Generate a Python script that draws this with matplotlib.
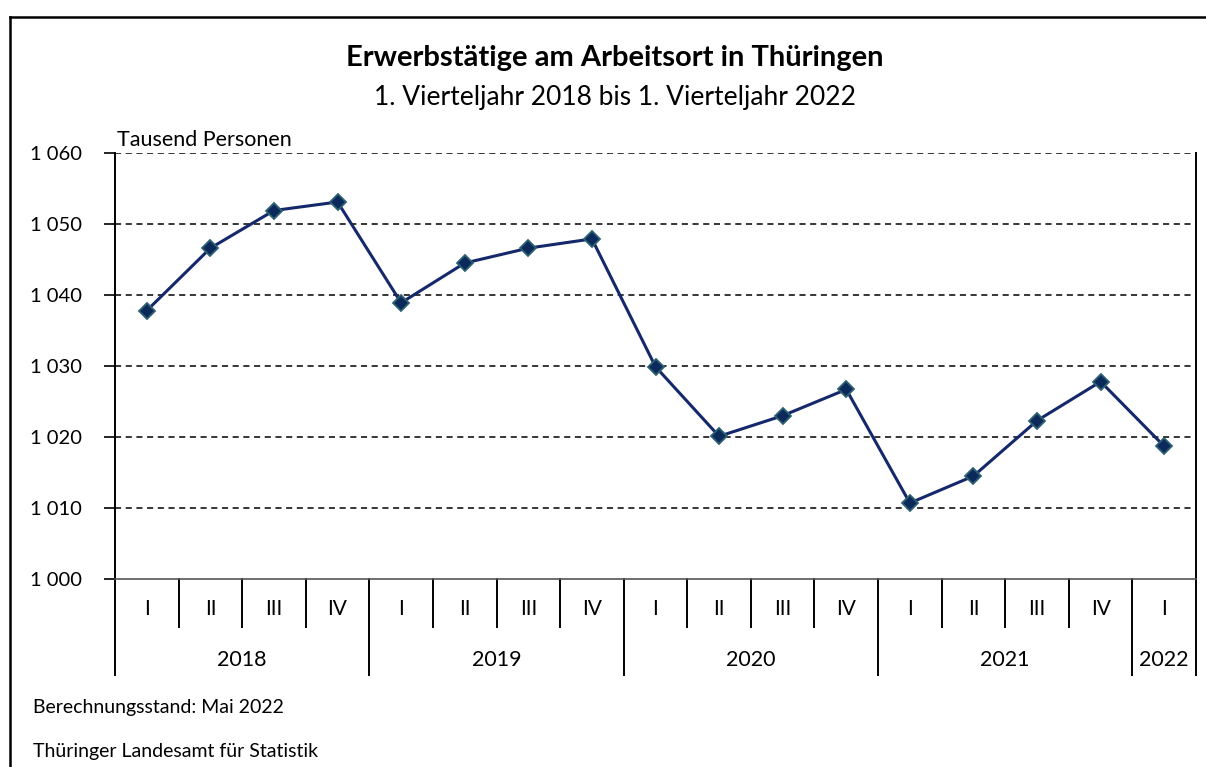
import matplotlib
matplotlib.use("Agg")
import matplotlib.pyplot as plt
from matplotlib.lines import Line2D

plt.rcParams['font.family'] = ['Lato', 'DejaVu Sans']

quarters = ["I", "II", "III", "IV"] * 4 + ["I"]
years = ["2018", "2019", "2020", "2021", "2022"]
year_counts = [4, 4, 4, 4, 1]
values = [1037.8, 1046.6, 1051.9, 1053.1,
          1038.9, 1044.5, 1046.6, 1047.9,
          1029.9, 1020.1, 1023.0, 1026.7,
          1010.7, 1014.5, 1022.3, 1027.8,
          1018.7]
yticks = [1000, 1010, 1020, 1030, 1040, 1050, 1060]
ytick_labels = ["1 000", "1 010", "1 020", "1 030", "1 040", "1 050", "1 060"]

W, H = 1206, 767
fig = plt.figure(figsize=(W / 100, H / 100), dpi=100)
ax_l, ax_r, ax_t, ax_b = 115, 1196, 153, 579
ax = fig.add_axes([ax_l / W, 1 - ax_b / H, (ax_r - ax_l) / W, (ax_b - ax_t) / H])

n = len(values)
x = [i + 0.5 for i in range(n)]
ax.plot(x, values, color='#14286B', lw=2.2, marker='D', markersize=8.5,
        markerfacecolor='#0B2A5B', markeredgecolor='#2E6170', markeredgewidth=1.3, zorder=3)

ax.set_xlim(0, n)
ax.set_ylim(1000, 1060)
ax.set_yticks(yticks)
ax.set_yticklabels(ytick_labels, fontsize=14.5)
ax.tick_params(axis='y', direction='out', length=8, width=1.2, pad=16, color='black')
ax.set_xticks([])

for yv in yticks[1:]:
    ax.axhline(yv, color='black', lw=1.1, ls=(0, (4, 3)), zorder=1)

ax.spines['top'].set_visible(False)
ax.spines['left'].set_linewidth(1.4)
ax.spines['right'].set_linewidth(1.4)
ax.spines['bottom'].set_linewidth(1.2)
ax.spines['bottom'].set_color('#555555')

# category axis
ph = ax_b - ax_t
q_depth = -48 / ph
y_depth = -96 / ph
boundaries = [0]
for c in year_counts:
    boundaries.append(boundaries[-1] + c)
for i in range(n + 1):
    depth = y_depth if i in boundaries else q_depth
    ax.plot([i, i], [0, depth], transform=ax.get_xaxis_transform(), color='black',
            lw=1.4, clip_on=False)
for i, q in enumerate(quarters):
    ax.text(i + 0.5, -30 / ph, q, transform=ax.get_xaxis_transform(), ha='center',
            va='center', fontsize=15)
for k, yr in enumerate(years):
    cx = (boundaries[k] + boundaries[k + 1]) / 2
    ax.text(cx, -81 / ph, yr, transform=ax.get_xaxis_transform(), ha='center',
            va='center', fontsize=15.5)

# texts
fig.text(615 / W, 1 - 58 / H, "Erwerbstätige am Arbeitsort in Thüringen", ha='center',
         va='center', fontsize=21, fontweight='bold')
fig.text(615 / W, 1 - 97 / H, "1. Vierteljahr 2018 bis 1. Vierteljahr 2022", ha='center',
         va='center', fontsize=19)
fig.text(117 / W, 1 - 140 / H, "Tausend Personen", ha='left', va='center', fontsize=15.5)
fig.text(33 / W, 1 - 708 / H, "Berechnungsstand: Mai 2022", ha='left', va='center', fontsize=14)
fig.text(33 / W, 1 - 752 / H, "Thüringer Landesamt für Statistik", ha='left', va='center', fontsize=14)

# outer frame
fig.add_artist(Line2D([10 / W, 10 / W], [0, 1 - 17 / H], color='black', lw=1.8,
                      transform=fig.transFigure))
fig.add_artist(Line2D([10 / W, 1], [1 - 17 / H, 1 - 17 / H], color='black', lw=1.8,
                      transform=fig.transFigure))

fig.savefig("out.png", dpi=100)
